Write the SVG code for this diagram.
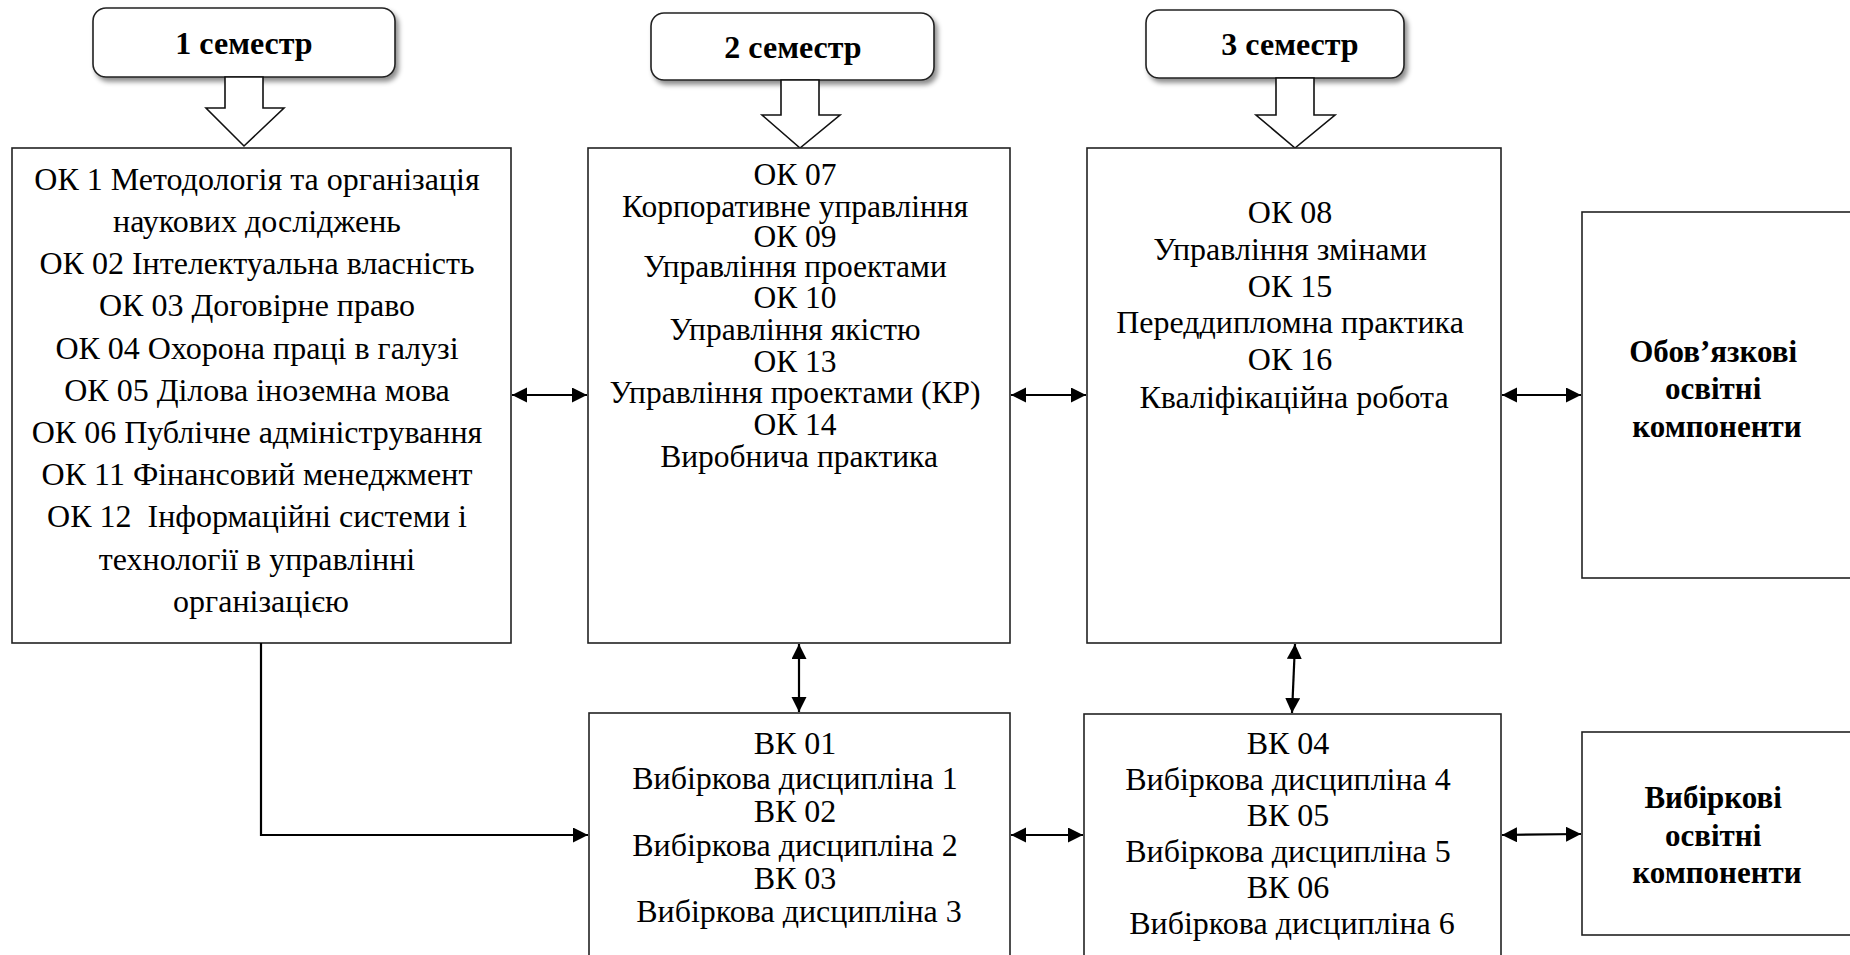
<svg xmlns="http://www.w3.org/2000/svg" width="1850" height="955" viewBox="0 0 1850 955">
  <defs>
    <style>
      .box { fill: #ffffff; stroke: #222222; stroke-width: 1.6; }
      .hdr { fill: #ffffff; stroke: #222222; stroke-width: 1.6; filter: url(#shadow); }
      .blk { fill: #ffffff; stroke: #111111; stroke-width: 1.6; stroke-linejoin: miter; }
      .t { font-family: "Liberation Serif", "Times New Roman", serif; font-size: 32px; fill: #000000; text-anchor: middle; }
      .t2 { font-family: "Liberation Serif", "Times New Roman", serif; font-size: 31.5px; fill: #000000; text-anchor: middle; }
      .b { font-family: "Liberation Serif", "Times New Roman", serif; font-size: 32px; font-weight: bold; fill: #000000; text-anchor: middle; }
      .bl { font-family: "Liberation Serif", "Times New Roman", serif; font-size: 31px; font-weight: bold; fill: #000000; text-anchor: middle; }
      .c { fill: none; stroke: #000000; stroke-width: 2.2; }
    </style>
    <filter id="shadow" x="-10%" y="-20%" width="130%" height="150%">
      <feDropShadow dx="3" dy="4" stdDeviation="2.5" flood-color="#000000" flood-opacity="0.45"/>
    </filter>
    <marker id="ah" markerUnits="userSpaceOnUse" markerWidth="16" markerHeight="16" viewBox="0 0 16 16" refX="15" refY="7.5" orient="auto-start-reverse">
      <path d="M0,0 L15,7.5 L0,15 z" fill="#000000"/>
    </marker>
  </defs>

  <g id="sem1">
    <rect class="hdr" x="93" y="8" width="302" height="69" rx="13" ry="13"/>
    <text class="b" x="244" y="54">1 семестр</text>
    <path class="blk" d="M225,77 L263,77 L263,108 L284,108 L244,146 L206,108 L225,108 Z"/>
  </g>

  <g id="sem2">
    <rect class="hdr" x="651" y="13" width="283" height="67" rx="13" ry="13"/>
    <text class="b" x="793" y="58">2 семестр</text>
    <path class="blk" d="M781,80 L819,80 L819,115 L840,115 L800,148 L762,115 L781,115 Z"/>
  </g>

  <g id="sem3">
    <rect class="hdr" x="1146" y="10" width="258" height="68" rx="13" ry="13"/>
    <text class="b" x="1290" y="55">3 семестр</text>
    <path class="blk" d="M1276,78 L1314,78 L1314,115 L1335,115 L1295,148 L1256,115 L1276,115 Z"/>
  </g>

  <g id="box-sem1">
    <rect class="box" x="12" y="148" width="499" height="495"/>
    <text class="t">
      <tspan x="261" y="190">ОК 1 Методологія та організація</tspan>
      <tspan x="261" y="232">наукових досліджень</tspan>
      <tspan x="261" y="274">ОК 02 Інтелектуальна власність</tspan>
      <tspan x="261" y="316">ОК 03 Договірне право</tspan>
      <tspan x="261" y="359">ОК 04 Охорона праці в галузі</tspan>
      <tspan x="261" y="401">ОК 05 Ділова іноземна мова</tspan>
      <tspan x="261" y="443">ОК 06 Публічне адміністрування</tspan>
      <tspan x="261" y="485">ОК 11 Фінансовий менеджмент</tspan>
      <tspan x="261" y="527" xml:space="preserve">ОК 12  Інформаційні системи і</tspan>
      <tspan x="261" y="570">технології в управлінні</tspan>
      <tspan x="261" y="612">організацією</tspan>
    </text>
  </g>

  <g id="box-sem2">
    <rect class="box" x="588" y="148" width="422" height="495"/>
    <text class="t2">
      <tspan x="799" y="185">ОК 07</tspan>
      <tspan x="799" y="217">Корпоративне управління</tspan>
      <tspan x="799" y="247">ОК 09</tspan>
      <tspan x="799" y="277">Управління проектами</tspan>
      <tspan x="799" y="308">ОК 10</tspan>
      <tspan x="799" y="340">Управління якістю</tspan>
      <tspan x="799" y="372">ОК 13</tspan>
      <tspan x="799" y="403">Управління проектами (КР)</tspan>
      <tspan x="799" y="435">ОК 14</tspan>
      <tspan x="799" y="467">Виробнича практика</tspan>
    </text>
  </g>

  <g id="box-sem3">
    <rect class="box" x="1087" y="148" width="414" height="495"/>
    <text class="t">
      <tspan x="1294" y="223">ОК 08</tspan>
      <tspan x="1294" y="260">Управління змінами</tspan>
      <tspan x="1294" y="297">ОК 15</tspan>
      <tspan x="1294" y="333">Переддипломна практика</tspan>
      <tspan x="1294" y="370">ОК 16</tspan>
      <tspan x="1294" y="408">Кваліфікаційна робота</tspan>
    </text>
  </g>

  <g id="mandatory">
    <rect class="box" x="1582" y="212" width="280" height="366"/>
    <text class="bl">
      <tspan x="1717" y="362">Обов’язкові</tspan>
      <tspan x="1717" y="399">освітні</tspan>
      <tspan x="1717" y="437">компоненти</tspan>
    </text>
  </g>

  <g id="elective-1">
    <rect class="box" x="589" y="713" width="421" height="260"/>
    <text class="t">
      <tspan x="799" y="754">ВК 01</tspan>
      <tspan x="799" y="789">Вибіркова дисципліна 1</tspan>
      <tspan x="799" y="822">ВК 02</tspan>
      <tspan x="799" y="856">Вибіркова дисципліна 2</tspan>
      <tspan x="799" y="889">ВК 03</tspan>
      <tspan x="799" y="922">Вибіркова дисципліна 3</tspan>
    </text>
  </g>

  <g id="elective-2">
    <rect class="box" x="1084" y="714" width="417" height="260"/>
    <text class="t">
      <tspan x="1292" y="754">ВК 04</tspan>
      <tspan x="1292" y="790">Вибіркова дисципліна 4</tspan>
      <tspan x="1292" y="826">ВК 05</tspan>
      <tspan x="1292" y="862">Вибіркова дисципліна 5</tspan>
      <tspan x="1292" y="898">ВК 06</tspan>
      <tspan x="1292" y="934">Вибіркова дисципліна 6</tspan>
    </text>
  </g>

  <g id="elective">
    <rect class="box" x="1582" y="732" width="280" height="203"/>
    <text class="bl">
      <tspan x="1717" y="808">Вибіркові</tspan>
      <tspan x="1717" y="846">освітні</tspan>
      <tspan x="1717" y="883">компоненти</tspan>
    </text>
  </g>

  <g id="connectors">
    <line class="c" x1="512" y1="395" x2="587" y2="395" marker-start="url(#ah)" marker-end="url(#ah)"/>
    <line class="c" x1="1011" y1="395" x2="1086" y2="395" marker-start="url(#ah)" marker-end="url(#ah)"/>
    <line class="c" x1="1502" y1="395" x2="1581" y2="395" marker-start="url(#ah)" marker-end="url(#ah)"/>
    <line class="c" x1="799" y1="644" x2="799" y2="712" marker-start="url(#ah)" marker-end="url(#ah)"/>
    <line class="c" x1="1295" y1="644" x2="1292" y2="713" marker-start="url(#ah)" marker-end="url(#ah)"/>
    <path class="c" d="M261,643 V835 H588" marker-end="url(#ah)"/>
    <line class="c" x1="1011" y1="835" x2="1083" y2="835" marker-start="url(#ah)" marker-end="url(#ah)"/>
    <line class="c" x1="1502" y1="835" x2="1581" y2="834" marker-start="url(#ah)" marker-end="url(#ah)"/>
  </g>
</svg>
